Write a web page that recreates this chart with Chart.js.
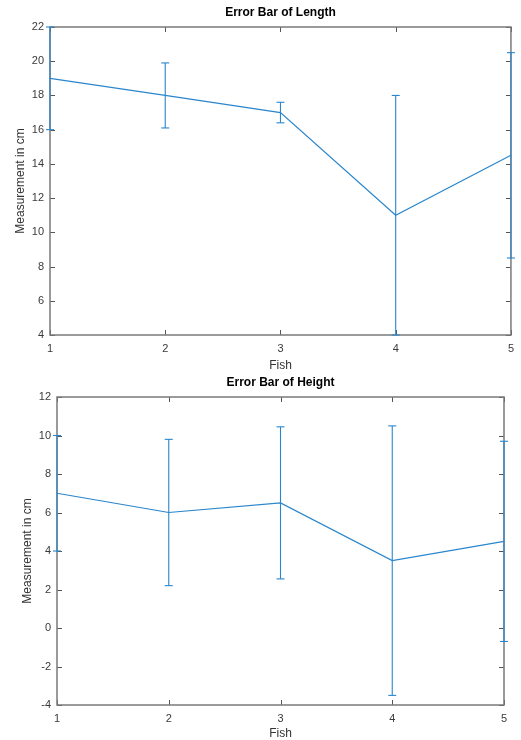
<!DOCTYPE html>
<html>
<head>
<meta charset="utf-8">
<script src="https://cdn.jsdelivr.net/npm/chart.js@4/dist/chart.umd.min.js"></script>
<style>
  html, body { margin: 0; padding: 0; background: #fff; }
  #wrap { position: relative; width: 521px; height: 740px; overflow: hidden; }
  canvas { position: absolute; left: 0; }
</style>
</head>
<body>
<div id="wrap">
  <canvas id="c1" width="521" height="372" style="top:0px"></canvas>
  <canvas id="c2" width="521" height="370" style="top:370px"></canvas>
</div>
<script>
// ---- data ----
const fish = [1, 2, 3, 4, 5];
const lengthMean = [19, 18, 17, 11, 14.5];
const lengthErr = [3, 1.9, 0.6, 7, 6];
const heightMean = [7, 6, 6.5, 3.5, 4.5];
const heightErr = [3, 3.8, 3.95, 7, 5.2];
const lengthTicks = { min: 4, max: 22, step: 2 };
const heightTicks = { min: -4, max: 12, step: 2 };
const fishTicks = { min: 1, max: 5, step: 1 };

const BLUE = '#2a86cc';
Chart.defaults.font.family = '"Liberation Sans", Arial, Helvetica, sans-serif';
Chart.defaults.color = '#3a3a3a';

const boxPlugin = {
  id: 'matlabBox',
  beforeDatasetsDraw(chart) {
    const { ctx, chartArea: a, scales: { x, y } } = chart;
    ctx.save();
    ctx.strokeStyle = '#555';
    ctx.lineWidth = 1;
    const tl = 5;
    ctx.beginPath();
    x.ticks.forEach(t => {
      const px = Math.round(x.getPixelForValue(t.value)) + 0.5;
      ctx.moveTo(px, a.bottom); ctx.lineTo(px, a.bottom - tl);
      ctx.moveTo(px, a.top); ctx.lineTo(px, a.top + tl);
    });
    y.ticks.forEach(t => {
      const py = Math.round(y.getPixelForValue(t.value)) + 0.5;
      ctx.moveTo(a.left, py); ctx.lineTo(a.left + tl, py);
      ctx.moveTo(a.right, py); ctx.lineTo(a.right - tl, py);
    });
    ctx.stroke();
    ctx.strokeStyle = '#7a7a7a';
    ctx.lineWidth = 1.5;
    ctx.strokeRect(a.left, a.top, a.right - a.left, a.bottom - a.top);
    ctx.restore();
  }
};

function makeChart(id, title, means, errs, yt, opts) {
  const datasets = [{
    data: fish.map((f, i) => ({ x: f, y: means[i] })),
    borderColor: BLUE,
    borderWidth: 1.2,
    pointRadius: 0,
    fill: false,
    tension: 0,
    clip: false
  }];
  fish.forEach((f, i) => {
    datasets.push({
      data: [{ x: f, y: means[i] - errs[i] }, { x: f, y: means[i] + errs[i] }],
      borderColor: BLUE,
      borderWidth: 1.1,
      pointStyle: 'line',
      pointRadius: 4,
      pointBorderColor: BLUE,
      pointBorderWidth: 1.1,
      showLine: true,
      fill: false,
      clip: false
    });
  });
  return new Chart(document.getElementById(id), {
    type: 'line',
    data: { datasets },
    plugins: [boxPlugin],
    options: {
      responsive: false,
      animation: false,
      events: [],
      layout: { padding: { left: 0, right: opts.right, top: 0, bottom: 0 } },
      plugins: {
        legend: { display: false },
        tooltip: { enabled: false },
        title: {
          display: true,
          text: title,
          fullSize: false,
          color: '#000',
          font: { size: 12, weight: 'bold' },
          padding: { top: 5, bottom: 7.6 }
        }
      },
      scales: {
        x: {
          type: 'linear',
          min: fishTicks.min, max: fishTicks.max,
          ticks: { stepSize: fishTicks.step, font: { size: 11 }, padding: 7, color: '#3a3a3a' },
          grid: { display: false, drawTicks: false },
          border: { display: false },
          title: { display: true, text: 'Fish', font: { size: 12 }, color: '#333', padding: { top: 0, bottom: -1 } },
          afterFit: s => { s.height = opts.xh; }
        },
        y: {
          type: 'linear',
          min: yt.min, max: yt.max,
          ticks: { stepSize: yt.step, font: { size: 11 }, padding: 6, color: '#3a3a3a' },
          grid: { display: false, drawTicks: false },
          border: { display: false },
          title: { display: true, text: 'Measurement in cm', font: { size: 12 }, color: '#333', padding: { top: opts.ytp, bottom: 0 } },
          afterFit: s => { s.width = opts.yw; }
        }
      }
    }
  });
}

makeChart('c1', 'Error Bar of Length', lengthMean, lengthErr, lengthTicks, { right: 8, xh: 37, yw: 50, ytp: 13 });
makeChart('c2', 'Error Bar of Height', heightMean, heightErr, heightTicks, { right: 17, xh: 35, yw: 57, ytp: 20 });
</script>
</body>
</html>
